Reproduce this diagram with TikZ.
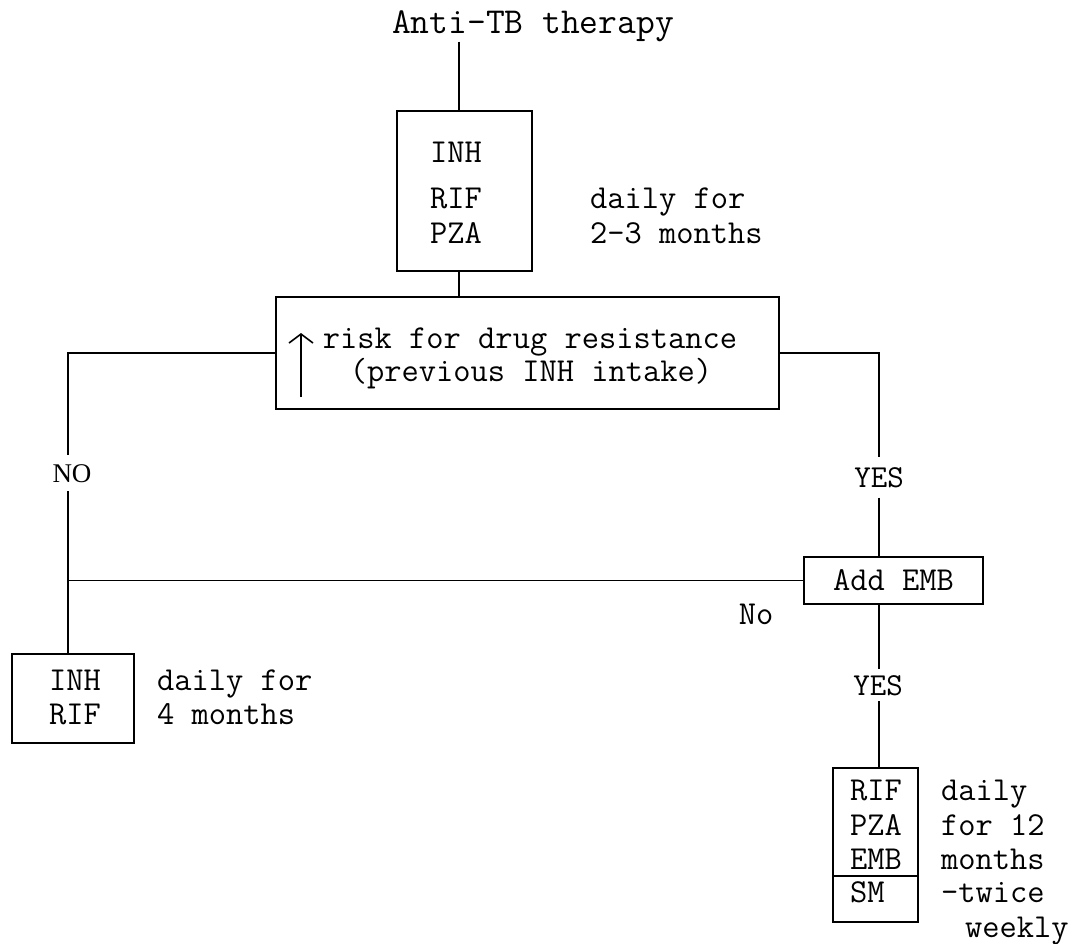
\documentclass[tikz,border=0pt]{standalone}
\usepackage{fontspec}
\newfontfamily\serifno{Liberation Serif}
\usetikzlibrary{arrows.meta}

\begin{document}
\begin{tikzpicture}[x=1pt,y=-1pt,
    wire/.style={line width=1.6pt},
    box/.style={draw,line width=1.6pt,inner sep=0pt},
    txt/.style={anchor=base,inner sep=0pt,font=\ttfamily\fontsize{33.5}{36}\selectfont},
    txtl/.style={txt,anchor=base west},
    yn/.style={anchor=base,inner xsep=2pt,font=\ttfamily\fontsize{32}{34}\selectfont}]
    \useasboundingbox (0,0) rectangle (1076,943);
    \coordinate (trunk) at (459,0);
    \coordinate (lefttrunk) at (68,0);
    \coordinate (righttrunk) at (879,0);
    \node[txt,font=\ttfamily\fontsize{36.5}{40}\selectfont] (title) at (533,33) {Anti-TB therapy};
    % first phase
    \node[box,minimum width=135pt,minimum height=160pt] (topbox) at (464.5,191) {};
    \node[txt] (inh1) at (456,162) {INH};
    \node[txt] (rif1) at (456,208) {RIF};
    \node[txt] (pza1) at (456,243) {PZA};
    \node[txtl] (dose1a) at (590,208) {daily for};
    \node[txtl] (dose1b) at (590,243) {2-3 months};
    \draw[wire] (trunk |- title.south) -- (trunk |- topbox.north);
    % decision
    \node[box,minimum width=503pt,minimum height=112pt] (riskbox) at (527.5,353) {};
    \node[txt] (risk1) at (530,348) {risk for drug resistance};
    \node[txt] (risk2) at (531,381) {(previous INH intake)};
    \draw[wire,-{Straight Barb[length=9pt,width=24pt]}] (301,397) -- (301,333);
    \draw[wire] (trunk |- topbox.south) -- (trunk |- riskbox.north);
    % NO branch
    \node[yn,inner ysep=9pt,font=\serifno\fontsize{27}{30}\selectfont] (no) at (72,482) {NO};
    \node[box,minimum width=122pt,minimum height=89pt] (inhbox) at (73,698.5) {};
    \node[txt] (inh2) at (75,690) {INH};
    \node[txt] (rif2) at (75,724) {RIF};
    \node[txtl] (dose2a) at (157,690) {daily for};
    \node[txtl] (dose2b) at (157,724) {4 months};
    \draw[wire] (riskbox.west) -| (lefttrunk |- no.north);
    \draw[wire] (lefttrunk |- no.south) -- (lefttrunk |- inhbox.north);
    % YES branch
    \node[yn,inner ysep=10pt] (yes1) at (879,487) {YES};
    \node[box,minimum width=179pt,minimum height=47pt,font=\ttfamily\fontsize{33.5}{36}\selectfont] (addemb) at (893.5,580.5) {Add EMB};
    \node[txt] (nolbl) at (756,624) {No};
    \node[yn,inner ysep=5.5pt] (yes2) at (878,695) {YES};
    \node[box,minimum width=85pt,minimum height=154pt] (rxbox) at (875.5,845) {};
    \coordinate (rxsep) at (875,876);
    \node[txtl] (rif3) at (850,800) {RIF};
    \node[txtl] (pza3) at (850,835) {PZA};
    \node[txtl] (emb3) at (850,869) {EMB};
    \node[txtl] (sm3) at (850,902) {SM};
    \node[txtl] (dose3a) at (941,800) {daily};
    \node[txtl] (dose3b) at (941,835) {for 12};
    \node[txtl] (dose3c) at (941,869) {months};
    \node[txtl] (dose3d) at (941,902) {-twice};
    \node[txtl] (dose3e) at (965,937) {weekly};
    \draw[wire] (rxbox.west |- rxsep) -- (rxbox.east |- rxsep);
    \draw[wire] (riskbox.east) -| (righttrunk |- yes1.north);
    \draw[wire] (righttrunk |- yes1.south) -- (righttrunk |- addemb.north);
    \draw[wire] (righttrunk |- addemb.south) -- (righttrunk |- yes2.north);
    \draw[wire] (righttrunk |- yes2.south) -- (righttrunk |- rxbox.north);
    \draw[wire] (addemb.west) -- (addemb.west -| lefttrunk);
  \end{tikzpicture}
\end{document}
